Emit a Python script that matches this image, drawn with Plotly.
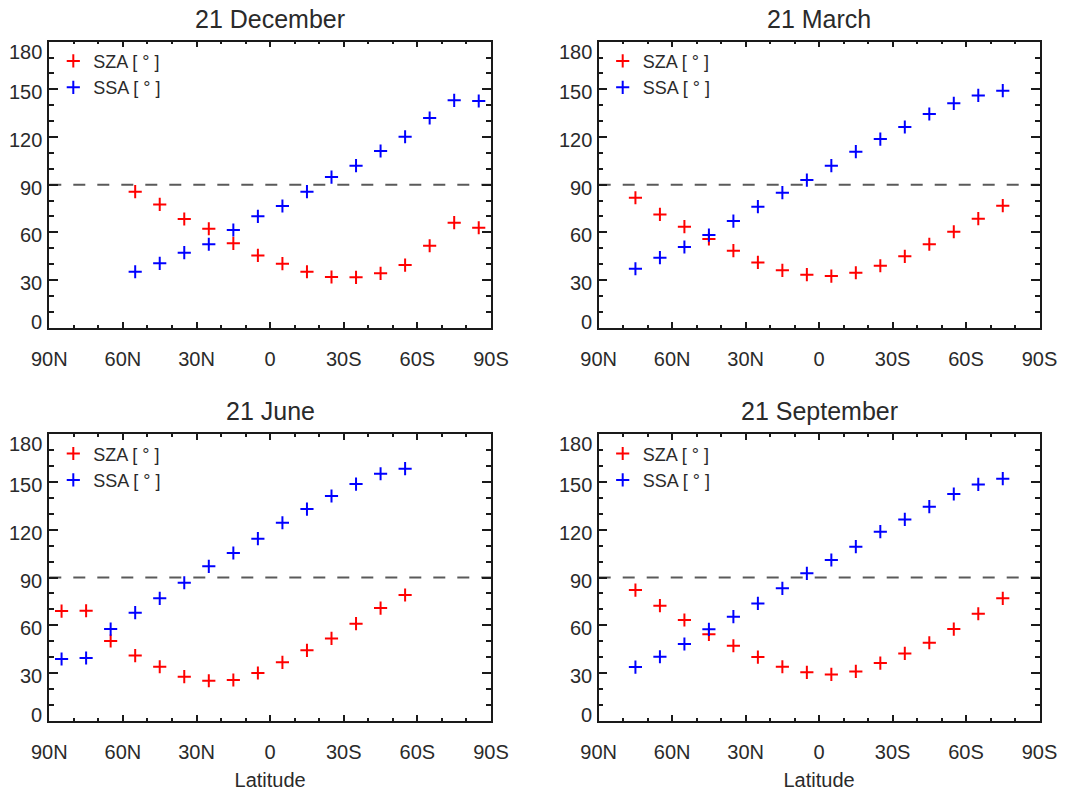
import plotly.graph_objects as go

# Latitude bin centres (degrees, north positive)
lat_dec = [55, 45, 35, 25, 15, 5, -5, -15, -25, -35, -45, -55, -65, -75, -85]
sza_dec = [85.6, 77.6, 68.4, 62.3, 53.1, 45.5, 40.3, 35.2, 31.9, 31.7, 34.2, 39.4, 51.6, 66.1, 62.9]
ssa_dec = [35.2, 40.5, 47.2, 52.5, 61.5, 70.1, 76.6, 85.6, 94.8, 102.0, 111.2, 120.2, 132.0, 143.1, 142.7]

lat_mar = [75, 65, 55, 45, 35, 25, 15, 5, -5, -15, -25, -35, -45, -55, -65, -75]
sza_mar = [81.8, 71.3, 63.6, 55.8, 48.5, 41.1, 36.1, 33.4, 32.5, 34.6, 39.0, 44.9, 52.5, 60.4, 68.6, 76.8]
ssa_mar = [37.1, 44.1, 50.8, 58.3, 67.1, 76.2, 85.0, 92.9, 102.0, 110.8, 118.7, 126.3, 134.5, 141.2, 146.2, 149.2]

lat_jun = [85, 75, 65, 55, 45, 35, 25, 15, 5, -5, -15, -25, -35, -45, -55]
sza_jun = [68.9, 69.1, 50.1, 40.9, 33.9, 27.7, 25.1, 25.6, 30.0, 36.7, 44.2, 51.7, 61.0, 70.8, 79.0]
ssa_jun = [38.8, 39.4, 57.6, 67.9, 76.9, 86.7, 97.0, 105.4, 114.4, 124.4, 133.0, 141.2, 148.7, 155.2, 158.4]

lat_sep = [75, 65, 55, 45, 35, 25, 15, 5, -5, -15, -25, -35, -45, -55, -65, -75]
sza_sep = [82.1, 72.3, 63.3, 54.3, 47.1, 40.0, 33.9, 30.4, 29.1, 31.0, 36.2, 42.3, 49.0, 57.6, 67.2, 76.9]
ssa_sep = [33.7, 40.2, 48.2, 57.4, 65.4, 73.7, 83.2, 92.6, 101.0, 109.4, 118.8, 126.5, 134.5, 142.5, 148.5, 152.1]

titles = ["21 December", "21 March", "21 June", "21 September"]
x_tickvals = [90, 60, 30, 0, -30, -60, -90]
x_ticktext = ["90N", "60N", "30N", "0", "30S", "60S", "90S"]
y_tickvals = [0, 30, 60, 90, 120, 150, 180]
y_ticktext = ["0", "30", "60", "90", "120", "150", "180"]
threshold = 90

panels = [
    (lat_dec, sza_dec, ssa_dec),
    (lat_mar, sza_mar, ssa_mar),
    (lat_jun, sza_jun, ssa_jun),
    (lat_sep, sza_sep, ssa_sep),
]

W, H = 1087, 791
# plot-area boxes in pixels: (left, right, top, bottom)
boxes = [
    (49.3, 491.0, 41.7, 327.7),
    (598.7, 1039.5, 41.7, 327.7),
    (49.3, 491.0, 434.3, 720.7),
    (598.7, 1039.5, 434.3, 720.7),
]

FONT = "Liberation Sans, Arial, Helvetica, sans-serif"
TXT = "#2a2a2a"
AX = "#1a1a1a"

fig = go.Figure()
layout = dict(
    template="none",
    width=W, height=H,
    margin=dict(l=0, r=0, t=0, b=0, autoexpand=False),
    paper_bgcolor="white", plot_bgcolor="white",
    font=dict(family=FONT, color=TXT, size=20),
    showlegend=True,
)
annotations = []
shapes = []


def y_label_shift(v):
    # end labels are pulled inside the frame, the rest sit just under their tick
    if v == y_tickvals[-1]:
        return -10
    if v == y_tickvals[0]:
        return 6
    return -3


for i, ((lat, sza, ssa), title, (l, r, t, b)) in enumerate(zip(panels, titles, boxes)):
    n = "" if i == 0 else str(i + 1)
    leg = "legend" if i == 0 else f"legend{i + 1}"
    xa, ya = f"x{n}", f"y{n}"
    fig.add_trace(go.Scatter(
        x=lat, y=sza, mode="markers", name="SZA [ ° ]",
        xaxis=xa, yaxis=ya, legend=leg, legendgroup=f"sza{i}",
        marker=dict(symbol="cross-thin", size=9.4, line=dict(color="#ff0000", width=2)),
    ))
    fig.add_trace(go.Scatter(
        x=lat, y=ssa, mode="markers", name="SSA [ ° ]",
        xaxis=xa, yaxis=ya, legend=leg, legendgroup=f"ssa{i}",
        marker=dict(symbol="cross-thin", size=9.4, line=dict(color="#0000ff", width=2)),
    ))

    xd = [l / W, r / W]
    yd = [1 - b / H, 1 - t / H]
    bottom_row = i >= 2
    layout[f"xaxis{n}"] = dict(
        domain=xd, anchor=ya, range=[90, -90], automargin=False,
        tickmode="array", tickvals=x_tickvals, ticktext=x_ticktext,
        ticks="inside", ticklen=6, tickwidth=1.5, tickcolor=AX,
        minor=dict(dtick=10, tick0=0, ticks="inside", ticklen=3, tickwidth=1.5, tickcolor=AX),
        showline=True, linecolor=AX, linewidth=1.5, mirror="allticks",
        showgrid=False, zeroline=False,
        ticklabelstandoff=13,
        tickfont=dict(size=20, color=TXT),
        title=dict(text="Latitude" if bottom_row else "", font=dict(size=20, color=TXT), standoff=12),
    )
    layout[f"yaxis{n}"] = dict(
        domain=yd, anchor=xa, range=[0, 180], automargin=False,
        tickmode="array", tickvals=y_tickvals,
        ticks="inside", ticklen=9, tickwidth=1.5, tickcolor=AX,
        minor=dict(dtick=10, tick0=0, ticks="inside", ticklen=5, tickwidth=1.5, tickcolor=AX),
        showline=True, linecolor=AX, linewidth=1.5, mirror="allticks",
        showgrid=False, zeroline=False, showticklabels=False,
    )
    for v, s in zip(y_tickvals, y_ticktext):
        annotations.append(dict(
            text=s, x=0, y=v, xref=f"{xa} domain", yref=ya,
            xanchor="right", yanchor="middle", xshift=-5, yshift=y_label_shift(v),
            showarrow=False, font=dict(size=20, color=TXT),
        ))
    layout[leg] = dict(
        x=(l + 4) / W, y=1 - (t + 1) / H, xanchor="left", yanchor="top",
        bgcolor="rgba(0,0,0,0)", borderwidth=0,
        font=dict(size=18, color=TXT), tracegroupgap=0,
    )
    annotations.append(dict(
        text=title, x=(l + r) / 2 / W, y=1 - (t - 23) / H,
        xref="paper", yref="paper", xanchor="center", yanchor="middle",
        showarrow=False, font=dict(size=25, color=TXT),
    ))
    shapes.append(dict(
        type="line", xref=f"{xa} domain", yref=ya, x0=0, x1=1, y0=threshold, y1=threshold,
        line=dict(color="#5a5a5a", width=2, dash="12px,12px"), layer="below",
    ))

layout["annotations"] = annotations
layout["shapes"] = shapes
fig.update_layout(**layout)
fig.write_html("out.html")
